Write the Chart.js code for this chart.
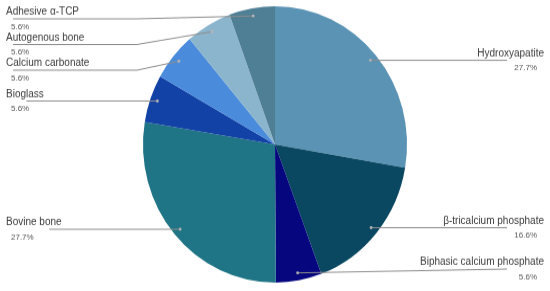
<!DOCTYPE html>
<html>
<head>
<meta charset="utf-8">
<script src="https://cdn.jsdelivr.net/npm/chart.js@4.4.1/dist/chart.umd.min.js"></script>
<style>
  html, body { margin: 0; padding: 0; background: #fff; }
  /* source image was squashed a bit horizontally, so stretch the 278px drawing to 291px */
  #pie { display: block; width: 550px; height: 291px; }
</style>
</head>
<body>
<canvas id="pie" width="550" height="278" style="width:550px;height:291px"></canvas>
<script>
const materials = [
  "Hydroxyapatite",
  "β-tricalcium phosphate",
  "Biphasic calcium phosphate",
  "Bovine bone",
  "Bioglass",
  "Calcium carbonate",
  "Autogenous bone",
  "Adhesive α-TCP",
];
const shares = [27.7, 16.6, 5.6, 27.7, 5.6, 5.6, 5.6, 5.6];
const shareLabels = ["27.7%", "16.6%", "5.6%", "27.7%", "5.6%", "5.6%", "5.6%", "5.6%"];
const sliceColors = [
  "#5a93b4", "#0a4862", "#06067f", "#1f7485",
  "#1342a6", "#4a8cdb", "#8bb5cd", "#4f7f94",
];

// leader lines + labels, google-sheets style
const calloutPlugin = {
  id: "callouts",
  afterDatasetsDraw(chart) {
    const ctx = chart.ctx;
    const arcs = chart.getDatasetMeta(0).data;
    const items = arcs.map((arc, i) => {
      const p = arc.getProps(["x", "y", "startAngle", "endAngle", "outerRadius"], true);
      const mid = (p.startAngle + p.endAngle) / 2;
      const r = p.outerRadius * 0.945;
      const dx = p.x + Math.cos(mid) * r;
      const dy = p.y + Math.sin(mid) * r;
      return { i, dx, dy, left: dx < p.x };
    });

    const gap = 24.5;
    const topY = 18;
    const bottomY = 257;
    [true, false].forEach((side) => {
      let prev = -Infinity;
      items.filter((it) => it.left === side)
        .sort((a, b) => a.dy - b.dy)
        .forEach((it) => {
          let y = Math.max(it.dy, prev + gap, topY);
          y = Math.min(y, bottomY);
          it.ly = y;
          prev = y;
        });
    });

    ctx.save();
    ctx.strokeStyle = "#8c8c8c";
    ctx.lineWidth = 1;
    items.forEach((it) => {
      ctx.beginPath();
      if (it.left) {
        const elbowX = 137;
        if (Math.abs(it.ly - it.dy) > 0.5) {
          ctx.moveTo(13, it.ly);
          ctx.lineTo(elbowX, it.ly);
          ctx.lineTo(it.dx, it.dy);
        } else {
          ctx.moveTo(Math.max(13, it.dx - 131), it.ly);
          ctx.lineTo(it.dx, it.dy);
        }
      } else {
        ctx.moveTo(it.dx, it.dy);
        ctx.lineTo(507, it.ly);
      }
      ctx.stroke();

      ctx.fillStyle = "#b5b5b5";
      ctx.beginPath();
      ctx.arc(it.dx, it.dy, 1.4, 0, Math.PI * 2);
      ctx.fill();

      ctx.textBaseline = "alphabetic";
      ctx.font = "10px 'Liberation Sans', Arial, sans-serif";
      ctx.fillStyle = "#3a3a3a";
      ctx.textAlign = it.left ? "left" : "right";
      ctx.fillText(materials[it.i], it.left ? 6 : 544, it.ly - 3.6);
      ctx.font = "8px 'Liberation Sans', Arial, sans-serif";
      ctx.fillStyle = "#555";
      ctx.fillText(shareLabels[it.i], it.left ? 11 : 537, it.ly + 9.5);
    });
    ctx.restore();
  },
};

new Chart(document.getElementById("pie"), {
  type: "pie",
  data: {
    labels: materials,
    datasets: [
      {
        data: shares,
        backgroundColor: sliceColors,
        borderWidth: 0,
      },
    ],
  },
  options: {
    responsive: false,
    animation: false,
    rotation: 0,
    layout: { padding: { left: 143, right: 143, top: 6, bottom: 8 } },
    plugins: {
      legend: { display: false },
      tooltip: { enabled: false },
    },
  },
  plugins: [calloutPlugin],
});
</script>
</body>
</html>
